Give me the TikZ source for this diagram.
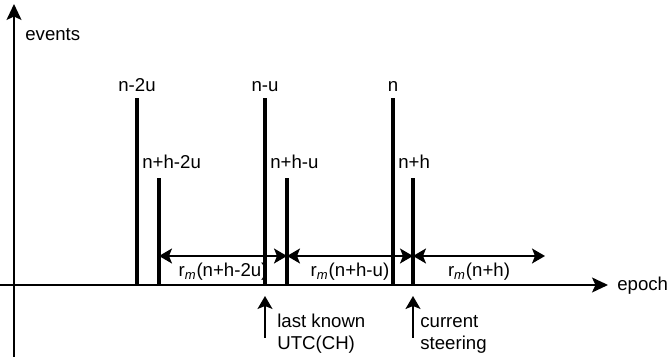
\documentclass[tikz,border=0pt]{standalone}
\usepackage{fontspec}
\setmainfont{Liberation Sans}
\usetikzlibrary{arrows.meta,positioning,calc}

\begin{document}
\begin{tikzpicture}[
  x=0.2mm, y=0.2mm,
  font=\fontsize{10.6}{12.5}\selectfont,
  axis/.style    = {line width=0.9pt, -{Stealth[length=3.2mm, width=3mm, inset=0.7mm]}},
  tallbar/.style = {line width=2.3pt},
  span/.style    = {line width=0.9pt,
                    {Stealth[length=2.6mm, width=3mm, inset=0.6mm]}-{Stealth[length=2.6mm, width=3mm, inset=0.6mm]}},
  pointer/.style = {line width=0.9pt, -{Stealth[length=2.6mm, width=3mm, inset=0.6mm]}},
  note/.style    = {align=left, inner sep=0pt, anchor=west}
]
  \useasboundingbox (0,0) rectangle (669,359);

  % axes
  \coordinate (orig) at (0,74);
  \coordinate (xend) at (608,74);
  \coordinate (ybot) at (14,2);
  \coordinate (ytop) at (14,355);
  \draw[axis] (orig) -- (xend);
  \draw[axis] (ybot) -- (ytop);
  \node[note] (xlab) at (617,73) {epoch};
  \node[note] (ylab) at (25,324) {events};

  % events n-ku
  \foreach \x/\nm/\lab in {137/a/n-2u, 265/b/n-u, 393/c/n} {
    \coordinate (\nm0) at (\x,74);
    \coordinate (\nm1) at (\x,261);
    \draw[tallbar] (\nm0) -- (\nm1);
    \node[above=0pt of \nm1] (\nm lab) {\lab};
  }

  % events n+h-ku
  \foreach \x/\px/\nm/\lab in {159/137/d/n+h-2u, 287/265/e/n+h-u, 413/393/f/n+h} {
    \coordinate (\nm0) at (\x,74);
    \coordinate (\nm1) at (\x,181);
    \coordinate (\nm2) at (\x,103);
    \draw[tallbar] (\nm0) -- (\nm1);
    \node[note] (\nm lab) at (\px+5,197) {\lab};
  }
  \coordinate (g2) at (545,103);

  % spans r_m
  \foreach \a/\b/\lab in {d2/e2/n+h-2u, e2/f2/n+h-u, f2/g2/n+h}
    \draw[span] (\a) -- (\b) node[midway, below] {r\textsubscript{\itshape m}(\lab)};

  % pointers
  \coordinate (pa) at (265,21);
  \coordinate (pat) at (265,63);
  \coordinate (pb) at (413,21);
  \coordinate (pbt) at (413,63);
  \draw[pointer] (pa) -- (pat);
  \draw[pointer] (pb) -- (pbt);
  \node[note] (lastk) at (277,25) {last known\\UTC(CH)};
  \node[note] (curst) at (420,25) {current\\steering};
\end{tikzpicture}
\end{document}
